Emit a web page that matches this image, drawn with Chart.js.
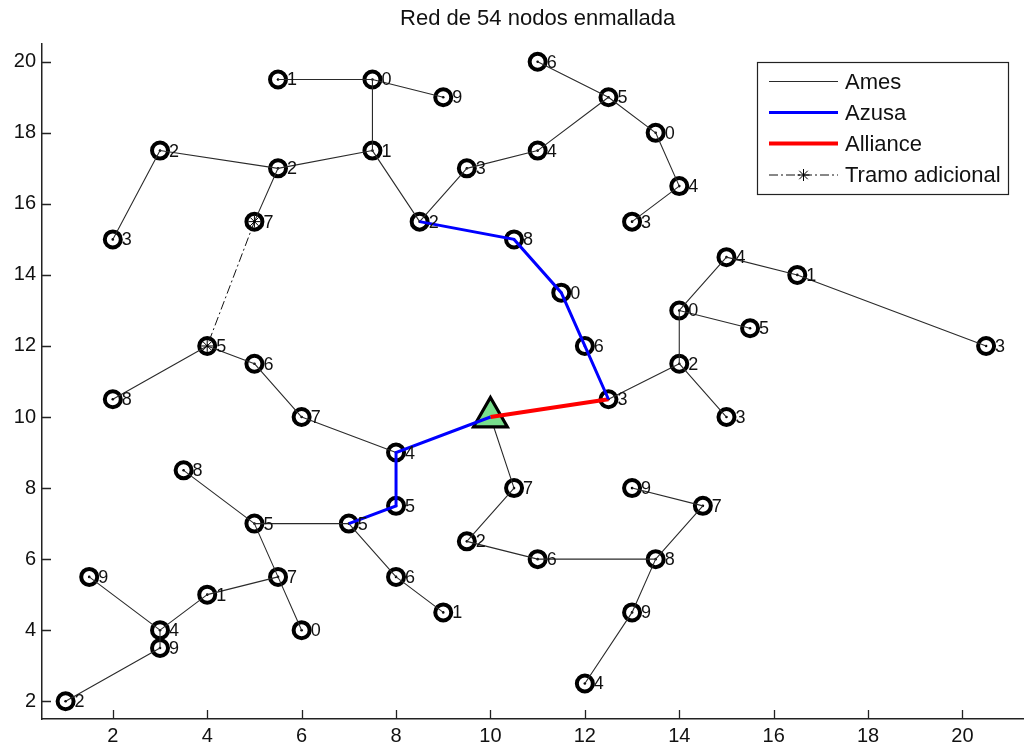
<!DOCTYPE html>
<html><head><meta charset="utf-8">
<script src="https://cdn.jsdelivr.net/npm/chart.js@4/dist/chart.umd.min.js"></script>
<style>
html,body{margin:0;padding:0;background:#fff;overflow:hidden;width:1024px;height:746px}
#wrap{position:absolute;left:0;top:0;width:1056px;height:746px}
#c{width:1056px;height:746px;display:block}
</style>
</head><body><div id="wrap"><canvas id="c" width="1056" height="746"></canvas></div>
<script>
const chartTitle = 'Red de 54 nodos enmallada';
const seriesNames = ['Ames', 'Azusa', 'Alliance', 'Tramo adicional'];
const nodeX = [5.5, 7.5, 9, 3, 5.5, 7.5, 2, 5, 8.5, 9.5, 11, 11, 12.5, 13.5, 14, 13, 10.5, 11.5, 12, 12.5,
  14, 14, 15, 16.5, 15.5, 20.5, 15, 10, 4, 2, 5, 6, 8, 8, 7, 5, 3.5, 5.5, 4, 6,
  1.5, 3, 3, 1, 8, 9, 10.5, 9.5, 11, 13.5, 13, 12, 13, 14.5];
const nodeY = [19.5, 19.5, 19, 17.5, 17, 17.5, 15, 15.5, 15.5, 17, 17.5, 20, 19, 18, 16.5, 15.5, 15, 13.5, 12, 10.5,
  11.5, 13, 14.5, 14, 12.5, 12, 10, 10, 12, 10.5, 11.5, 10, 9, 7.5, 7, 7, 8.5, 5.5, 5, 4,
  5.5, 4, 3.5, 2, 5.5, 4.5, 8, 6.5, 6, 6, 4.5, 2.5, 8, 7.5];
const nodeLabels = ['1', '0', '9', '2', '2', '1', '3', '7', '2', '3', '4', '6', '5', '0', '4', '3', '8', '0', '6', '3',
  '2', '0', '4', '1', '5', '3', '3', '', '5', '8', '6', '7', '4', '5', '5', '5', '8', '7', '1', '0',
  '9', '4', '9', '2', '6', '1', '7', '2', '6', '8', '9', '4', '9', '7'];
const sourceNode = 27;
const amesEdges = [[0,1],[1,2],[1,5],[3,4],[4,5],[6,3],[4,7],[5,8],[8,9],[9,10],[10,12],[11,12],[12,13],[13,14],[14,15],
  [19,20],[20,21],[21,22],[22,23],[23,25],[21,24],[20,26],
  [29,28],[28,30],[30,31],[31,32],
  [27,46],[46,47],[47,48],[48,49],[49,53],[53,52],[49,50],[50,51],
  [36,35],[35,34],[35,37],[37,38],[37,39],[38,41],[40,41],[41,42],[42,43],[34,44],[44,45]];
const azusaPaths = [[8,16,17,18,19], [27,32,33,34]];
const alliancePaths = [[27,19]];
const tramoPaths = [[7,28]];
const xTicks = [2, 4, 6, 8, 10, 12, 14, 16, 18, 20];
const yTicks = [2, 4, 6, 8, 10, 12, 14, 16, 18, 20];

const FONT = "'Liberation Sans', Arial, sans-serif";
const pt = i => ({x: nodeX[i], y: nodeY[i]});
function edgeData(edges){ const d=[]; edges.forEach(([a,b])=>{d.push(pt(a),pt(b),{x:nodeX[b],y:null});}); return d; }
function pathData(paths){ const d=[]; paths.forEach(p=>{p.forEach(i=>d.push(pt(i))); d.push({x:nodeX[p[p.length-1]],y:null});}); return d; }
const nodeIdx = nodeX.map((_,i)=>i).filter(i=>i!==sourceNode);

const lineStyles = [
  {color:'#2a2a2a', width:1.1, dash:[]},
  {color:'#0000ff', width:3, dash:[]},
  {color:'#ff0000', width:4, dash:[]},
  {color:'#111', width:1, dash:[9,3,2,3]}
];

const datasets = [
  {label: seriesNames[1], data: pathData(azusaPaths), showLine:true, borderColor:lineStyles[1].color, borderWidth:lineStyles[1].width, pointRadius:0, order:0},
  {label: seriesNames[2], data: pathData(alliancePaths), showLine:true, borderColor:lineStyles[2].color, borderWidth:lineStyles[2].width, pointRadius:0, order:1},
  {label: 'Fuente', data: [pt(sourceNode)], pointStyle:'triangle', pointRadius:19.5, pointBorderWidth:3.2, pointBorderColor:'#000', pointBackgroundColor:'rgb(120,222,140)', order:2},
  {label: seriesNames[3], data: pathData(tramoPaths), showLine:true, borderColor:lineStyles[3].color, borderWidth:1, borderDash:lineStyles[3].dash, pointStyle:'star', pointRadius:6, pointBorderWidth:1, pointBorderColor:'#000', pointBackgroundColor:'#000', order:3},
  {label: seriesNames[0], data: edgeData(amesEdges), showLine:true, borderColor:lineStyles[0].color, borderWidth:lineStyles[0].width, pointRadius:0, order:4},
  {label: 'nodos', data: nodeIdx.map(pt), pointStyle:'circle', pointRadius:8, pointBorderWidth:4, pointBorderColor:'#000', pointBackgroundColor:'rgba(0,0,0,0)', order:5},
  {label: 'centros', data: nodeIdx.map(pt), pointStyle:'circle', pointRadius:1.3, pointBorderWidth:0, pointBackgroundColor:'#000', order:6}
];

const customDraw = {
  id:'customDraw',
  afterDatasetsDraw(chart){
    const ctx = chart.ctx, xs = chart.scales.x, ys = chart.scales.y;
    ctx.save();
    ctx.fillStyle = '#111';
    ctx.font = '18px ' + FONT;
    ctx.textBaseline = 'middle';
    ctx.textAlign = 'left';
    nodeLabels.forEach((t,i)=>{ if(!t) return;
      ctx.fillText(t, xs.getPixelForValue(nodeX[i]) + 9, ys.getPixelForValue(nodeY[i]) + 1);
    });
    ctx.restore();
  },
  afterDraw(chart){
    const ctx = chart.ctx, xs = chart.scales.x, ys = chart.scales.y, a = chart.chartArea;
    ctx.save();
    ctx.strokeStyle = '#222'; ctx.lineWidth = 1.3;
    ctx.beginPath();
    xs.ticks.forEach(t=>{const p = Math.round(xs.getPixelForValue(t.value))+0.5; ctx.moveTo(p, a.bottom); ctx.lineTo(p, a.bottom-9);});
    ys.ticks.forEach(t=>{const p = Math.round(ys.getPixelForValue(t.value))+0.5; ctx.moveTo(a.left, p); ctx.lineTo(a.left+9, p);});
    ctx.stroke();
    ctx.fillStyle = '#111';
    ctx.font = '22px ' + FONT;
    ctx.textAlign = 'center'; ctx.textBaseline = 'middle';
    ctx.fillText(chartTitle, xs.getPixelForValue(11), 19);
    const bx = 757, by = 62, bw = 251, bh = 132;
    ctx.fillStyle = '#fff'; ctx.fillRect(bx, by, bw, bh);
    ctx.strokeStyle = '#222'; ctx.lineWidth = 1.2; ctx.strokeRect(bx+0.5, by+0.5, bw, bh);
    const rows = [81.5, 112.5, 143.5, 175];
    ctx.font = '22px ' + FONT; ctx.textAlign = 'left'; ctx.textBaseline = 'middle';
    seriesNames.forEach((n,i)=>{
      const s = lineStyles[i], y = rows[i];
      ctx.strokeStyle = s.color; ctx.lineWidth = s.width; ctx.setLineDash(s.dash);
      ctx.beginPath(); ctx.moveTo(769, y); ctx.lineTo(838, y); ctx.stroke();
      ctx.setLineDash([]);
      if (i === 3) {
        ctx.lineWidth = 1; ctx.strokeStyle = '#000';
        const cx = 803.5, r = 6; ctx.beginPath();
        for (let k=0;k<4;k++){ const ang = k*Math.PI/4; ctx.moveTo(cx - r*Math.sin(ang), y - r*Math.cos(ang)); ctx.lineTo(cx + r*Math.sin(ang), y + r*Math.cos(ang)); }
        ctx.stroke();
      }
      ctx.fillStyle = '#111';
      ctx.fillText(n, 845, y + 1);
    });
    ctx.restore();
  }
};

new Chart(document.getElementById('c'), {
  type: 'scatter',
  data: {datasets},
  options: {
    responsive:false, animation:false, devicePixelRatio:1,
    layout:{padding:{top:44, right:6, bottom:0, left:0}},
    plugins:{legend:{display:false}, title:{display:false}, tooltip:{enabled:false}},
    scales:{
      x:{type:'linear', min:0.5, max:21.5,
        grid:{display:false, drawTicks:false},
        border:{display:true, color:'#222', width:1.5},
        afterBuildTicks(s){ s.ticks = xTicks.map(v=>({value:v})); },
        afterFit(s){ s.height = 27; },
        ticks:{color:'#111', font:{family:FONT, size:20}, padding:5, maxRotation:0, autoSkip:false}
      },
      y:{type:'linear', min:1.5, max:20.5,
        grid:{display:false, drawTicks:false},
        border:{display:true, color:'#222', width:1.5},
        afterBuildTicks(s){ s.ticks = yTicks.map(v=>({value:v})); },
        afterFit(s){ s.width = 42; },
        ticks:{color:'#111', font:{family:FONT, size:20}, padding:6, autoSkip:false}
      }
    }
  },
  plugins:[customDraw]
});
</script>
</body></html>
